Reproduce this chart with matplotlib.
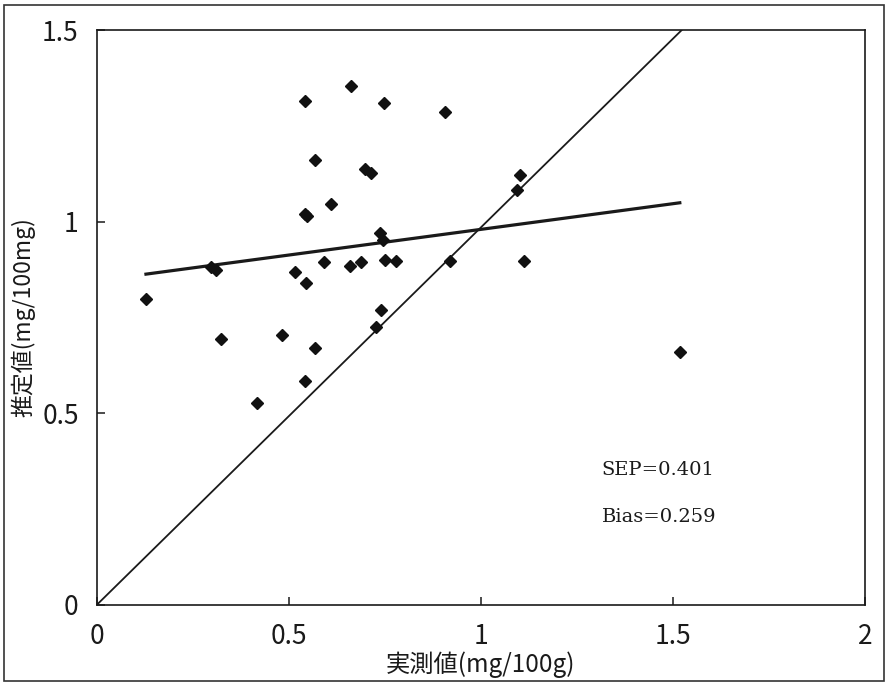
import numpy as np
import matplotlib
matplotlib.use("Agg")
import matplotlib.pyplot as plt
from matplotlib.patches import Rectangle

plt.rcParams['font.family'] = ['Noto Sans CJK JP', 'DejaVu Sans']

measured = [0.128, 0.297, 0.310, 0.324, 0.417, 0.482, 0.541, 0.663, 0.748, 0.907,
            0.568, 0.699, 0.715, 0.611, 0.543, 0.548, 0.738, 0.746, 0.516, 0.545,
            0.592, 0.658, 0.687, 0.751, 0.780, 0.920, 0.741, 0.727, 0.568, 0.541,
            1.103, 1.094, 1.113, 1.518]
predicted = [0.799, 0.881, 0.874, 0.695, 0.528, 0.704, 1.316, 1.355, 1.311, 1.287,
             1.162, 1.138, 1.126, 1.045, 1.019, 1.015, 0.971, 0.952, 0.870, 0.841,
             0.895, 0.884, 0.895, 0.899, 0.898, 0.897, 0.770, 0.726, 0.670, 0.584,
             1.123, 1.083, 0.898, 0.659]

# regression line of predicted on measured
fit_slope = 0.134
fit_intercept = 0.846

# reference (y = x) line as drawn in the scan
diag_slope = 0.985

sep_text = "SEP=0.401"
bias_text = "Bias=0.259"

x = np.array(measured)
y = np.array(predicted)

fig = plt.figure(figsize=(8.88, 6.85), dpi=100)
ax = fig.add_axes([0.109, 0.117, 0.865, 0.839])

# 1:1 line
dx = np.array([0, 2])
ax.plot(dx, diag_slope * dx, color='#1a1a1a', lw=1.3, zorder=2)

# regression line over the data range
fx = np.array([x.min(), x.max()])
ax.plot(fx, fit_intercept + fit_slope * fx, color='#1a1a1a', lw=2.3, zorder=3)

ax.plot(x, y, linestyle='none', marker='D', ms=6.5, color='#111111', zorder=4)

ax.set_xlim(0, 2)
ax.set_ylim(0, 1.5)
ax.set_xticks([0, 0.5, 1, 1.5, 2])
ax.set_xticklabels(['0', '0.5', '1', '1.5', '2'])
ax.set_yticks([0, 0.5, 1, 1.5])
ax.set_yticklabels(['0', '0.5', '1', '1.5'])
ax.tick_params(direction='in', length=6, width=1.1, labelsize=19, pad=13,
               colors='#1a1a1a')
for s in ax.spines.values():
    s.set_linewidth(1.2)
    s.set_color('#1a1a1a')

ax.set_xlabel('実測値(mg/100g)', fontsize=17.5, labelpad=1, color='#1a1a1a')
ax.set_ylabel('推定値(mg/100mg)', fontsize=16.5, labelpad=5, color='#1a1a1a')

ax.text(1.314, 0.352, sep_text, family='DejaVu Serif', fontsize=14, va='center', ha='left',
        color='#1a1a1a')
ax.text(1.314, 0.230, bias_text, family='DejaVu Serif', fontsize=14, va='center', ha='left',
        color='#1a1a1a')

# outer frame round the whole figure
fig.patches.append(Rectangle((0.005, 0.006), 0.99, 0.987, transform=fig.transFigure,
                             fill=False, lw=1.2, edgecolor='#333333'))

fig.savefig('out.png', dpi=100)
